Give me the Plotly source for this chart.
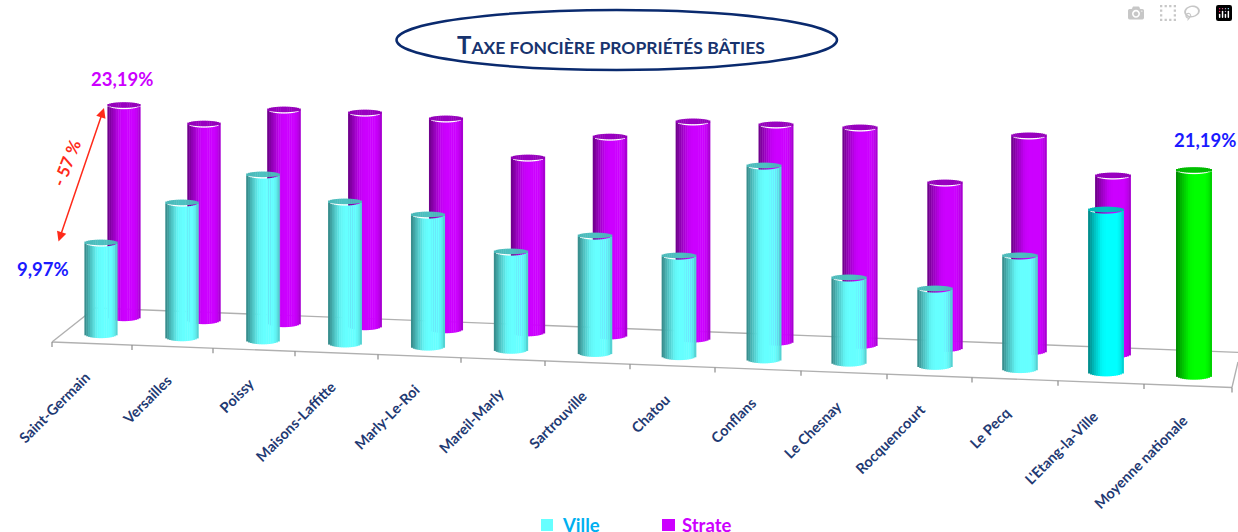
import math
import plotly.graph_objects as go

# ---------- data ----------
communes = ["Saint-Germain", "Versailles", "Poissy", "Maisons-Laffitte", "Marly-Le-Roi",
            "Mareil-Marly", "Sartrouville", "Chatou", "Conflans", "Le Chesnay",
            "Rocquencourt", "Le Pecq", "L'Etang-la-Ville", "Moyenne nationale"]
ville = [9.97, 14.6, 17.9, 15.25, 14.13, 10.46, 12.45, 10.62, 20.39, 8.91, 8.06, 11.8, 16.84, 21.19]
strate = [23.19, 21.4, 23.16, 23.06, 22.65, 18.7, 21.18, 23.03, 22.94, 22.86, 17.33, 22.5, 18.57]
ville_colors = ["#66FFFF"] * 12 + ["#00FFFF", "#00FF00"]
strate_color = "#CC00FF"

# ---------- layout of the pseudo-3D floor ----------
W, H = 1238, 532
ticks_x = [52, 132, 213, 295, 378, 461, 545, 630, 715, 801, 887, 972, 1058, 1144, 1232]
ville_x = [101, 182, 263, 345, 428, 511, 595, 679, 764, 849, 935, 1020, 1106, 1194]
strate_x = [124, 204, 284, 365, 446, 528, 610, 693, 776, 860, 945, 1029, 1113]
label_end_x = [96, 178, 260, 342, 426, 510, 593, 676, 762, 848, 932, 1017, 1104, 1194]
NAVY = "#1F3A73"


def mix(hex_col, f):
    r, g, b = [int(hex_col[i:i + 2], 16) for i in (1, 3, 5)]
    return f"rgb({int(r * f)},{int(g * f)},{int(b * f)})"


def shade(t):
    pts = [(-1, .52), (-.7, .72), (-.25, .96), (0, 1), (.65, 1), (.9, .9), (1, .74)]
    for (a, fa), (c, fc) in zip(pts, pts[1:]):
        if t <= c:
            return fa + (fc - fa) * (t - a) / (c - a)
    return pts[-1][1]


def cylinder_traces(xs, vals, cols, base0, slope, x0, k0, name):
    n = 18
    bx, bb, by, bw, bc = [], [], [], [], []
    cx, cb, cy, cw, cc = [], [], [], [], []
    for i, (x, v, col) in enumerate(zip(xs, vals, cols)):
        r = 16.4 + 0.11 * i
        scale = k0 + 0.04 * i
        base = base0 + slope * (x - x0)
        top = base - v * scale
        for j in range(n):
            t = -1 + (j + .5) * 2 / n
            e = math.sqrt(1 - t * t)
            bx.append(x + t * r)
            bw.append(2 * r / n + 0.4)
            bb.append(base + 4.2 * e)
            by.append(-v * scale)
            bc.append(mix(col, shade(t)))
            cx.append(x + t * r)
            cw.append(2 * r / n + 0.4)
            cb.append(top + 2.8 * e)
            cy.append(-5.6 * e)
            cc.append(mix(col, 0.76 - 0.04 * abs(t)))
    return [
        go.Bar(x=bx, y=by, base=bb, width=bw, marker=dict(color=bc, line_width=0),
               name=name, showlegend=False, hoverinfo="skip"),
        go.Bar(x=cx, y=cy, base=cb, width=cw, marker=dict(color=cc, line_width=0),
               name=name + " top", showlegend=False, hoverinfo="skip"),
    ]


fig = go.Figure()
for tr in cylinder_traces(strate_x, strate, [strate_color] * 13, 317, 0.0375, 125, 9.14, "Strate"):
    fig.add_trace(tr)
for tr in cylinder_traces(ville_x, ville, ville_colors, 334, 0.038, 102, 9.18, "Ville"):
    fig.add_trace(tr)


def front_y(x):
    return 342 + 0.0385 * (x - 52)


def back_y(x):
    return 308 + 0.0388 * (x - 95)


shapes = []
GREY = "#B0B0B0"
for x0_, y0_, x1_, y1_ in [(52, front_y(52), 1232, front_y(1232)),
                           (52, front_y(52), 95, back_y(95)),
                           (95, back_y(95), 1238, back_y(1238)),
                           (1232, front_y(1232), 1238, 362)]:
    shapes.append(dict(type="line", x0=x0_, y0=y0_, x1=x1_, y1=y1_, layer="below",
                       line=dict(color=GREY, width=1.4)))
for x in ticks_x:
    shapes.append(dict(type="line", x0=x, y0=front_y(x), x1=x, y1=front_y(x) + 5, layer="below",
                       line=dict(color="#8C8C8C", width=1.2)))
shapes.append(dict(type="circle", x0=396.5, y0=10, x1=837, y1=70,
                   line=dict(color="#0A2A6E", width=2.5), layer="above"))
shapes.append(dict(type="rect", x0=541, y0=519, x1=553, y1=531, fillcolor="#66FFFF", line_width=0))
shapes.append(dict(type="rect", x0=662, y0=519, x1=675, y1=531, fillcolor="#CC00FF", line_width=0))

annotations = []
for name, xe in zip(communes, label_end_x):
    annotations.append(dict(x=xe, y=front_y(xe) + 22, text=f"<b>{name}</b>", textangle=-45,
                            xanchor="right", yanchor="top", showarrow=False,
                            font=dict(family="Lato", size=14.5, color=NAVY)))


def txt(x, y, s, color, size, angle=0, anchor="center"):
    annotations.append(dict(x=x, y=y, text=s, showarrow=False, textangle=angle, xanchor=anchor,
                            yanchor="middle", font=dict(family="Lato", size=size, color=color)))


title = ("<b><span style='font-size:24px'>T</span>AXE FONCIÈRE PROPRIÉTÉS BÂTIES</b>")
txt(611, 44, title, "#17336E", 17.5)
txt(122, 79, "<b>23,19%</b>", "#CC00FF", 18.5)
txt(43, 269, "<b>9,97%</b>", "#1A1AFF", 18.5)
txt(1205, 140, "<b>21,19%</b>", "#1A1AFF", 18.5)
txt(66, 163, "<b>- 57 %</b>", "#FF2A1A", 17, angle=-68)
txt(560, 525, "<b>Ville</b>", "#00B0F0", 18.5, anchor="left")
txt(680, 525, "<b>Strate</b>", "#CC00FF", 18.5, anchor="left")

annotations.append(dict(x=104, y=108, ax=58, ay=243, xref="x", yref="y", axref="x", ayref="y",
                        text="", showarrow=True, arrowhead=2, startarrowhead=2, arrowside="end+start",
                        arrowsize=1.3, startarrowsize=1.3, arrowwidth=1.5, arrowcolor="#FF2A1A"))

fig.update_layout(
    width=W, height=H, margin=dict(l=0, r=0, t=0, b=0), barmode="overlay",
    paper_bgcolor="white", plot_bgcolor="white", showlegend=False,
    xaxis=dict(range=[0, W], visible=False, fixedrange=True),
    yaxis=dict(range=[H, 0], visible=False, fixedrange=True),
    shapes=shapes, annotations=annotations,
)
fig.write_html("out.html", post_script="document.body.style.margin='0';")
